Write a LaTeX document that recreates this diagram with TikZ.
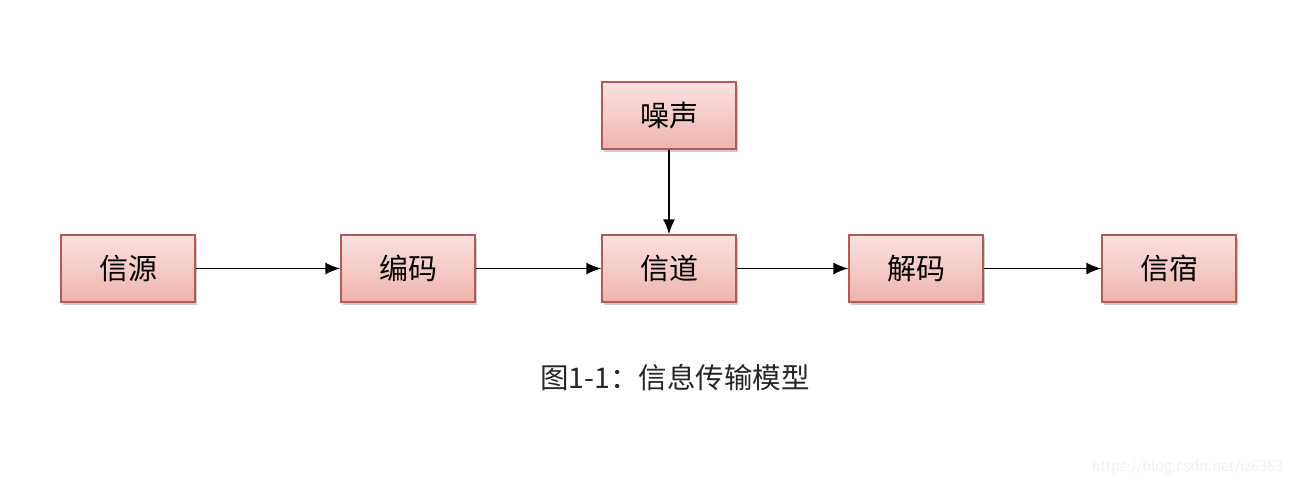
\documentclass[tikz,border=0pt]{standalone}
\usepackage{fontspec}
\setmainfont{Noto Sans CJK SC}
\usetikzlibrary{shadows, arrows.meta}
\definecolor{boxtop}{HTML}{FBE2E0}
\definecolor{boxbot}{HTML}{EFB3AE}
\definecolor{boxline}{HTML}{B45A55}

\begin{document}
\begin{tikzpicture}[x=1pt, y=-1pt]
\tikzset{BoxStyle/.style = {draw= boxline, line width= 1.4pt, top color= boxtop, bottom color= boxbot,
    minimum width= 134pt, minimum height= 67pt, inner sep= 0pt,
    font= \fontsize{29}{32}\selectfont,
    drop shadow= {shadow xshift= 2pt, shadow yshift= -2.5pt, opacity= 0.4}},
  ArrowStyle/.style = {-{Latex[length= 15pt, width= 12pt]}, line width= 1.6pt}
}
    \useasboundingbox (0,0) rectangle (1294,488);

   % Boxes
   \node[BoxStyle] (src)   at (128,268.5)  {信源};
   \node[BoxStyle] (enc)   at (408,268.5)  {编码};
   \node[BoxStyle] (chan)  at (669,268.5)  {信道};
   \node[BoxStyle] (dec)   at (916,268.5)  {解码};
   \node[BoxStyle] (sink)  at (1169,268.5) {信宿};
   \node[BoxStyle] (noise) at (669,115.5)  {噪声};

   % Arrows
   \draw[ArrowStyle] (src) -- (enc);
   \draw[ArrowStyle] (enc) -- (chan);
   \draw[ArrowStyle] (chan) -- (dec);
   \draw[ArrowStyle] (dec) -- (sink);
   \draw[ArrowStyle] (noise) -- (chan);

   % Caption
   \node[font= \fontsize{28.5}{32}\selectfont, text= black!85] (caption) at (675,378) {图1-1：信息传输模型};
   \node[anchor= east, font= \fontsize{14.5}{16}\selectfont, text= black!6] (mark) at (1287,468) {https://blog.csdn.net/lz6363};
\end{tikzpicture}
\end{document}
